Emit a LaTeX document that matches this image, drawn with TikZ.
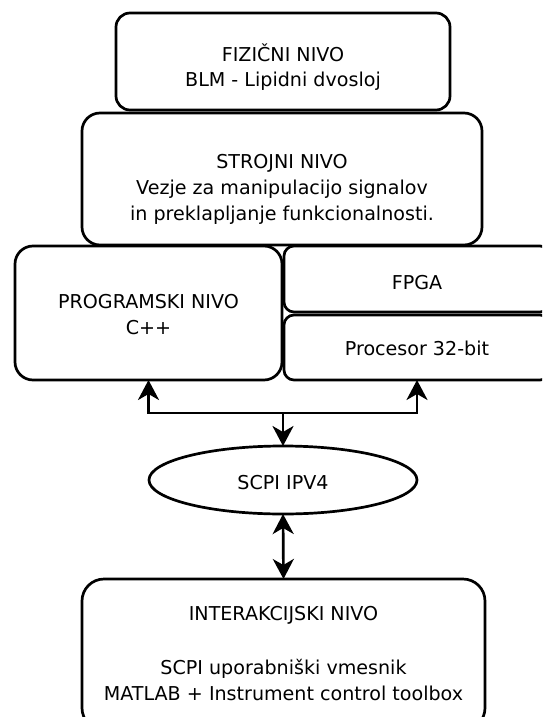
\documentclass[tikz,border=0pt]{standalone}
\usepackage{fontspec}
\setmainfont{DejaVu Sans}
\usetikzlibrary{arrows.meta,shapes.geometric}
\begin{document}
\begin{tikzpicture}[x=1pt,y=-1pt,
  box/.style={draw, line width=2.7pt, rectangle, inner sep=0pt, outer sep=0pt},
  oval/.style={draw, line width=2.7pt, ellipse, inner sep=0pt, outer sep=0pt},
  txt/.style={inner sep=0pt, anchor=base, font=\fontsize{19.1}{22}\selectfont},
  conn/.style={line width=2.7pt, -{Stealth[length=20pt,width=21pt,inset=6pt]}},
  dconn/.style={line width=2.7pt, {Stealth[length=20pt,width=21pt,inset=6pt]}-{Stealth[length=20pt,width=21pt,inset=6pt]}}]
\useasboundingbox (0,0) rectangle (542,717);
\clip (0,0) rectangle (542,717);
% boxes
\node[box, rounded corners=14pt, minimum width=334pt, minimum height=97pt] (fiz) at (283,61.5) {};
\node[box, rounded corners=18pt, minimum width=400pt, minimum height=132pt] (stro) at (282,179) {};
\node[box, rounded corners=18pt, minimum width=267pt, minimum height=134pt] (prog) at (148.5,313) {};
\node[box, rounded corners=10pt, minimum width=266pt, minimum height=66pt] (fpga) at (417,279) {};
\node[box, rounded corners=10pt, minimum width=266pt, minimum height=65pt] (proc) at (417,347.5) {};
\node[oval, minimum width=268pt, minimum height=68pt] (scpi) at (283,480) {};
\node[box, rounded corners=22pt, minimum width=403pt, minimum height=151pt] (inter) at (283.5,654.5) {};
% texts
\node[txt] (fiz1) at (283,61) {FIZIČNI NIVO};
\node[txt] (fiz2) at (283,86) {BLM - Lipidni dvosloj};
\node[txt] (stro1) at (282,168) {STROJNI NIVO};
\node[txt] (stro2) at (282,194) {Vezje za manipulacijo signalov};
\node[txt] (stro3) at (282,220) {in preklapljanje funkcionalnosti.};
\node[txt] (prog1) at (148.5,308) {PROGRAMSKI NIVO};
\node[txt] (prog2) at (148.5,334) {C++};
\node[txt] (fpga1) at (417,289) {FPGA};
\node[txt] (proc1) at (417,355) {Procesor 32-bit};
\node[txt] (scpi1) at (283,489) {SCPI IPV4};
\node[txt] (inter1) at (283.5,620) {INTERAKCIJSKI NIVO};
\node[txt] (inter2) at (283.5,674) {SCPI uporabniški vmesnik};
\node[txt] (inter3) at (283.5,700) {MATLAB + Instrument control toolbox};
% connectors
\coordinate (j) at (283,413);
\draw[conn] (j) -| (prog.south);
\draw[conn] (j) -| (proc.south);
\draw[conn] (j) -- (scpi.north);
\draw[dconn] (scpi.south) -- (inter.north);
\end{tikzpicture}
\end{document}
